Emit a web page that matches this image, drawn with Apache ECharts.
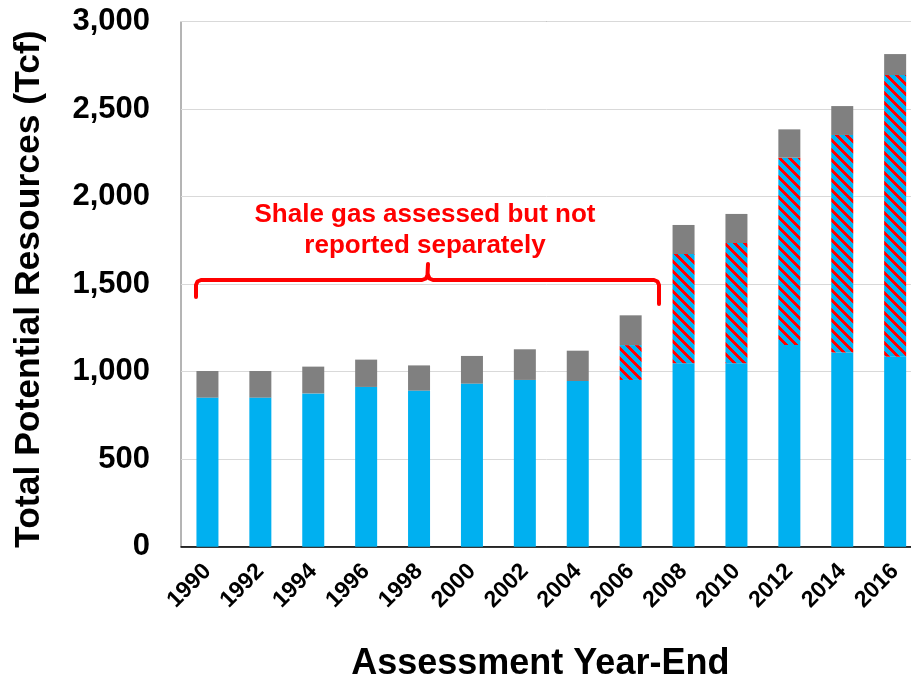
<!DOCTYPE html>
<html>
<head>
<meta charset="utf-8">
<script src="https://cdn.jsdelivr.net/npm/echarts@6/dist/echarts.min.js"></script>
<style>
html,body{margin:0;padding:0;background:#fff;}
#chart{width:911px;height:676px;}
</style>
</head>
<body>
<div id="chart"></div>
<script>
// ---- Data (Tcf) ----
var years = ['1990','1992','1994','1996','1998','2000','2002','2004','2006','2008','2010','2012','2014','2016'];
var traditional = [852, 852, 876, 913, 892, 932, 953, 947, 953, 1048, 1048, 1152, 1109, 1086];
var shale = [0, 0, 0, 0, 0, 0, 0, 0, 199, 624, 687, 1070, 1243, 1608];
var coalbed = [152, 152, 153, 156, 144, 158, 175, 173, 170, 166, 166, 162, 165, 120];
var yTicks = [0, 500, 1000, 1500, 2000, 2500, 3000];

var FONT = "'Liberation Sans', Arial, sans-serif";
var BLUE = '#00B0F0', RED = '#FF0000', GRAY = '#808080';

// hatch pattern: red diagonal "\" stripes over blue
var P = 10, W = 4;
var pc = document.createElement('canvas');
pc.width = P; pc.height = P;
var ctx = pc.getContext('2d');
ctx.fillStyle = BLUE; ctx.fillRect(0,0,P,P);
ctx.fillStyle = RED;
for (var y = 0; y < P; y++) {
  for (var x = 0; x < P; x++) {
    var d = ((x - y) % P + P) % P;
    if (d < W) ctx.fillRect(x, y, 1, 1);
  }
}

var bracketStyle = {fill: null, stroke: RED, lineWidth: 4, lineCap: 'round', lineJoin: 'round'};

var chart = echarts.init(document.getElementById('chart'), null, {renderer: 'canvas'});
var option = {
  animation: false,
  backgroundColor: '#fff',
  grid: {
    left: 181, top: 21.5, width: 740.6, height: 525.3,
    containLabel: false, outerBoundsMode: 'none',
    show: true, borderColor: '#6b6b6b', borderWidth: 1, backgroundColor: 'transparent'
  },
  xAxis: {
    type: 'category',
    data: years,
    name: 'Assessment Year-End',
    nameLocation: 'middle',
    nameGap: 99,
    nameTextStyle: {fontFamily: FONT, fontWeight: 'bold', fontSize: 36, color: '#000', padding: [0, 22, 0, 0]},
    axisTick: {show: false},
    axisLine: {lineStyle: {color: '#000', width: 1.5}},
    axisLabel: {rotate: 45, margin: 21, fontFamily: FONT, fontWeight: 'bold', fontSize: 23, color: '#000', interval: 0}
  },
  yAxis: {
    type: 'value',
    min: yTicks[0], max: yTicks[yTicks.length-1], interval: 500,
    name: 'Total Potential Resources (Tcf)',
    nameLocation: 'middle',
    nameGap: 134,
    nameTextStyle: {fontFamily: FONT, fontWeight: 'bold', fontSize: 35.5, color: '#000', padding: [0, 10, 0, 0]},
    axisLine: {show: false},
    axisTick: {show: false},
    splitLine: {lineStyle: {color: '#D9D9D9', width: 1}},
    axisLabel: {
      margin: 31, fontFamily: FONT, fontWeight: 'bold', fontSize: 31, color: '#000',
      formatter: function (v) { return String(v).replace(/\B(?=(\d{3})+(?!\d))/g, ','); }
    }
  },
  series: [
    {name: 'Traditional', type: 'bar', stack: 'total', barWidth: 22, data: traditional,
     itemStyle: {color: BLUE}},
    {name: 'Shale gas', type: 'bar', stack: 'total', barWidth: 22, data: shale,
     itemStyle: {color: {image: pc, repeat: 'repeat'}}},
    {name: 'Coalbed gas', type: 'bar', stack: 'total', barWidth: 22, data: coalbed,
     itemStyle: {color: GRAY}}
  ],
  graphic: [
    {
      type: 'text', x: 425, y: 230.5, z: 10,
      style: {
        text: 'Shale gas assessed but not\nreported separately',
        font: 'bold 26px ' + FONT, fill: RED,
        textAlign: 'center', textVerticalAlign: 'middle', lineHeight: 31
      }
    },
    {
      type: 'polyline', z: 10,
      shape: {points: [[196,297],[196,285],[197.5,281.5],[201,280],[422,280],[426,278.5],[427.5,275],[428,264]]},
      style: bracketStyle
    },
    {
      type: 'polyline', z: 10,
      shape: {points: [[428,275],[429.5,278.5],[433,280],[654,280],[657.5,281.5],[659,285],[659,304]]},
      style: bracketStyle
    }
  ]
};
chart.setOption(option);
</script>
</body>
</html>
